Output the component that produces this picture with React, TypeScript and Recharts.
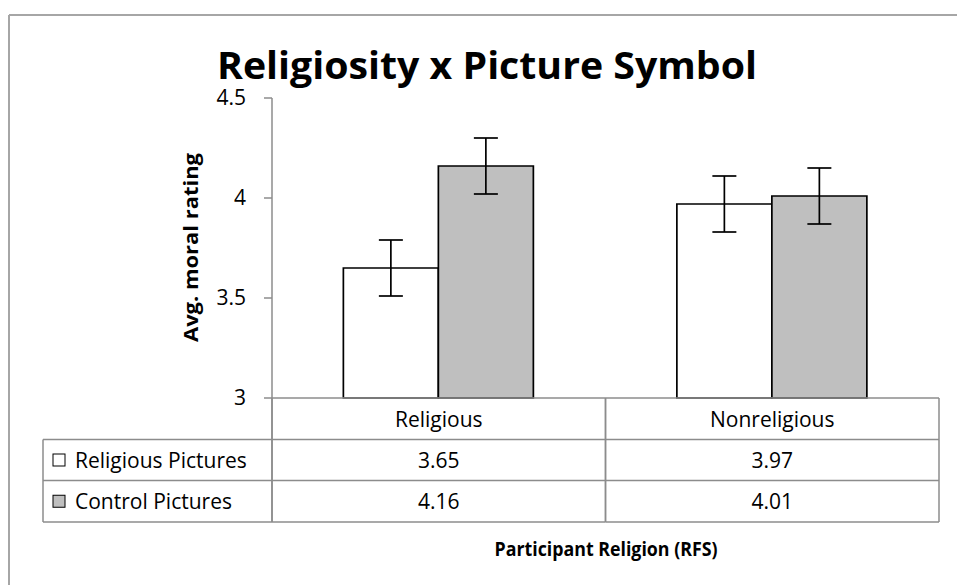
import React from 'react';
import { BarChart, Bar, XAxis, YAxis, ErrorBar } from 'recharts';

// ---- data ----
const categories = ['Religious', 'Nonreligious'];
const religiousPictures = [3.65, 3.97];
const controlPictures = [4.16, 4.01];
const religiousErr = [0.14, 0.14];
const controlErr = [0.14, 0.14];
const seriesNames = ['Religious Pictures', 'Control Pictures'];
const yTicks = [3, 3.5, 4, 4.5];
const titleText = 'Religiosity x Picture Symbol';
const yTitle = 'Avg. moral rating';
const xTitle = 'Participant Religion (RFS)';

const data = categories.map((c, i) => ({
  category: c,
  rel: religiousPictures[i],
  ctrl: controlPictures[i],
  relErr: religiousErr[i],
  ctrlErr: controlErr[i],
}));

// ---- layout ----
const W = 957;
const H = 585;
const PLOT_LEFT = 272;
const PLOT_RIGHT = 939;
const PLOT_TOP = 98;
const PLOT_BOTTOM = 398;
const ROWS = [398, 439.5, 480.5, 522];
const TABLE_LEFT = 43;
const YAXIS_W = 60;
const FONT = "'Open Sans', 'DejaVu Sans', sans-serif";
const GRID = '#8c8c8c';
const GRAY_FILL = '#bfbfbf';
const TABLE_FS = 21;

const TableTick = (props: any) => {
  const { x, payload } = props;
  const i = categories.indexOf(payload.value);
  const half = (PLOT_RIGHT - PLOT_LEFT) / categories.length / 2;
  const rowMid = (r: number) => (ROWS[r] + ROWS[r + 1]) / 2;
  const vals = [religiousPictures[i], controlPictures[i]];
  return (
    <g>
      <line x1={x - half} x2={x - half} y1={ROWS[0]} y2={ROWS[3]} stroke={GRID} strokeWidth={1.5} />
      <line x1={x + half} x2={x + half} y1={ROWS[0]} y2={ROWS[3]} stroke={GRID} strokeWidth={1.5} />
      {ROWS.slice(1).map((ry, k) => (
        <line key={k} x1={x - half} x2={x + half} y1={ry} y2={ry} stroke={GRID} strokeWidth={1.5} />
      ))}
      <text x={x} y={rowMid(0)} textAnchor="middle" dominantBaseline="central" fontSize={TABLE_FS} fontFamily={FONT} fill="#000">
        {payload.value}
      </text>
      {vals.map((v, k) => (
        <text key={k} x={x} y={rowMid(k + 1)} textAnchor="middle" dominantBaseline="central" fontSize={TABLE_FS} fontFamily={FONT} fill="#000">
          {v.toFixed(2)}
        </text>
      ))}
    </g>
  );
};

export default function App() {
  const rowMid = (r: number) => (ROWS[r] + ROWS[r + 1]) / 2;
  return (
    <div style={{ position: 'absolute', left: 0, top: 0, width: W, height: H, background: '#fff' }}>
      <BarChart
        width={W}
        height={H}
        data={data}
        margin={{ top: PLOT_TOP, right: W - PLOT_RIGHT, bottom: H - ROWS[3], left: PLOT_LEFT - YAXIS_W }}
        barCategoryGap="21.4%"
        barGap={0}
      >
        <YAxis
          width={YAXIS_W}
          domain={[3, 4.5]}
          ticks={yTicks}
          interval={0}
          tickSize={8}
          tickMargin={18}
          stroke={GRID}
          strokeWidth={1.5}
          tick={{ fill: '#000', fontSize: 21, fontFamily: FONT }}
          tickFormatter={(v: number) => String(v)}
        />
        <XAxis
          dataKey="category"
          height={ROWS[3] - ROWS[0]}
          tickLine={false}
          tickSize={0}
          tickMargin={0}
          interval={0}
          stroke={GRID}
          strokeWidth={1.5}
          tick={<TableTick />}
        />
        <Bar dataKey="rel" name={seriesNames[0]} fill="#ffffff" stroke="#000" strokeWidth={1.7} isAnimationActive={false}>
          <ErrorBar dataKey="relErr" width={12} stroke="#000" strokeWidth={1.7} direction="y" />
        </Bar>
        <Bar dataKey="ctrl" name={seriesNames[1]} fill={GRAY_FILL} stroke="#000" strokeWidth={1.7} isAnimationActive={false}>
          <ErrorBar dataKey="ctrlErr" width={12} stroke="#000" strokeWidth={1.7} direction="y" />
        </Bar>
      </BarChart>
      <svg width={W} height={H} style={{ position: 'absolute', left: 0, top: 0, pointerEvents: 'none' }}>
        {/* outer frame */}
        <line x1={9} x2={W} y1={15} y2={15} stroke="#a6a6a6" strokeWidth={2} />
        <line x1={9} x2={9} y1={15} y2={H} stroke="#a6a6a6" strokeWidth={2} />
        {/* title */}
        <text x={217} y={79} fontSize={38} fontWeight={700} fontFamily={FONT} textLength={540} lengthAdjust="spacingAndGlyphs" fill="#000">
          {titleText}
        </text>
        {/* y title */}
        <text
          transform="translate(198,247.5) rotate(-90)"
          textAnchor="middle"
          fontSize={19}
          fontWeight={700}
          fontFamily={FONT}
          textLength={189}
          lengthAdjust="spacingAndGlyphs"
          fill="#000"
        >
          {yTitle}
        </text>
        {/* x title */}
        <text x={606} y={556} textAnchor="middle" fontSize={19} fontWeight={700} fontFamily={FONT} textLength={223} lengthAdjust="spacingAndGlyphs" fill="#000">
          {xTitle}
        </text>
        {/* legend column of data table */}
        <line x1={PLOT_LEFT} x2={PLOT_LEFT} y1={PLOT_BOTTOM} y2={ROWS[3]} stroke={GRID} strokeWidth={1.5} />
        <line x1={TABLE_LEFT} x2={TABLE_LEFT} y1={ROWS[1]} y2={ROWS[3]} stroke={GRID} strokeWidth={1.5} />
        {ROWS.slice(1).map((ry, k) => (
          <line key={k} x1={TABLE_LEFT} x2={PLOT_LEFT} y1={ry} y2={ry} stroke={GRID} strokeWidth={1.5} />
        ))}
        {seriesNames.map((n, k) => (
          <g key={n}>
            <rect x={53} y={rowMid(k + 1) - 6} width={12} height={12} fill={k === 0 ? '#fff' : GRAY_FILL} stroke="#000" strokeWidth={1} />
            <text x={75} y={rowMid(k + 1)} dominantBaseline="central" fontSize={TABLE_FS} fontFamily={FONT} fill="#000">
              {n}
            </text>
          </g>
        ))}
      </svg>
    </div>
  );
}
